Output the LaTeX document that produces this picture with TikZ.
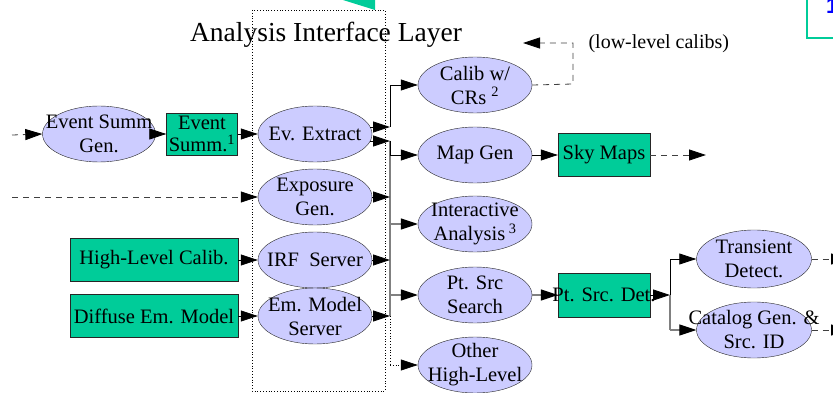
\documentclass[tikz,border=0pt]{standalone}
\usepackage{fontspec}
\setmainfont{Liberation Serif}
\newfontfamily\sansb{Liberation Sans}
\usetikzlibrary{arrows.meta,shapes.geometric,calc}
\definecolor{lav}{HTML}{CCCCFF}
\definecolor{grn}{HTML}{00CC99}
\definecolor{busgray}{HTML}{808080}
\begin{document}
\begin{tikzpicture}[x=1pt,y=-1pt,
  ell/.style={ellipse,draw=black!85,fill=lav,minimum width=114pt,minimum height=56pt,inner xsep=-40pt,inner ysep=-8pt,align=center,font=\fontsize{20.5}{24}\selectfont},
  boxn/.style={rectangle,draw=black!85,fill=grn,inner xsep=-20pt,inner ysep=-8pt,align=center,font=\fontsize{20.5}{22}\selectfont},
  arr/.style={-{Triangle[length=17pt,width=11pt,color=black]},line width=0.8pt},
  busl/.style={draw=busgray,line width=1.6pt},
  dsh/.style={dash pattern=on 6pt off 5pt,line width=0.8pt,draw=black!75},
  lbl/.style={font=\fontsize{20}{22}\selectfont}]
\useasboundingbox (0,0) rectangle (833,393);
\clip (0,0) rectangle (833,393);

% partial elements at the top
\fill[grn] (343,0) -- (375,0) -- (375,10) -- cycle;
\draw[grn,line width=2pt] (807,-5) rectangle (870,38);
\node[anchor=west,inner sep=0pt,text=blue,font=\sansb\bfseries\fontsize{22}{24}\selectfont] (one) at (826,6) {1};

% interface layer box and title
\draw[dotted,line width=0.8pt] (252,10) rectangle (385,391);
\node[font=\fontsize{27.5}{30}\selectfont] (title) at (326,35) {Analysis Interface Layer};

% left column
\node[ell,minimum width=113pt] (esg) at (99,134) {Event Summ\\Gen.};
\node[boxn,minimum width=71pt,minimum height=42pt] (es) at (202,134) {Event\\Summ.\textsuperscript{1}};
\node[boxn,minimum width=168pt,minimum height=43pt] (hlc) at (154,260) {High-Level Calib.};
\node[boxn,minimum width=168pt,minimum height=43pt] (dem) at (154,316) {Diffuse Em. Model};

% interface ellipses
\node[ell] (evx) at (315,134) {Ev. Extract};
\node[ell] (exp) at (315,197) {Exposure\\Gen.};
\node[ell] (irf) at (315,260) {IRF\ \ Server};
\node[ell] (emm) at (315,316) {Em. Model\\Server};

% right column ellipses
\node[ell] (cal) at (475,85) {Calib w/\\CRs \textsuperscript{2}};
\node[ell] (map) at (475,155) {Map Gen};
\node[ell] (ia) at (475,224) {Interactive\\Analysis\,\textsuperscript{3}};
\node[ell] (pss) at (475,295) {Pt. Src\\Search};
\node[ell] (oth) at (475,365) {Other\\High-Level};

\node[boxn,minimum width=92pt,minimum height=43pt] (sky) at (604,155) {Sky Maps};
\node[boxn,minimum width=92pt,minimum height=44pt] (psd) at (604,295) {Pt. Src. Det.};

\node[ell,minimum width=115pt,minimum height=58pt] (trd) at (754,259) {Transient\\Detect.};
\node[ell,minimum width=115pt,minimum height=56pt] (cat) at (754,330) {Catalog Gen. \&\\Src. ID};

\node[lbl,anchor=west] (llc) at (585,44) {(low-level calibs)};

% coordinates
\coordinate (in1) at (12,135);
\coordinate (in2) at (12,197);
\coordinate (b0) at (390,127);
\coordinate (b1) at (390,141);
\coordinate (btop) at (390,85);
\coordinate (bexp) at (390,197);
\coordinate (birf) at (390,260);
\coordinate (bemm) at (390,316);
\coordinate (bmap) at (390,155);
\coordinate (bia) at (390,224);
\coordinate (bpss) at (390,295);
\coordinate (both) at (390,365);
\coordinate (c1) at (573,84);
\coordinate (c2) at (573,43);
\coordinate (c3) at (523,43);
\coordinate (skyout) at (706,155);
\coordinate (pb) at (670,295);
\coordinate (ptr) at (670,259);
\coordinate (pcat) at (670,330);
\coordinate (trout) at (848,259);
\coordinate (catout) at (848,330);

% bus
\draw[busl] (b1) -- (bemm);
\draw[line width=0.8pt] (b1) -- (bmap);
\draw[dotted,line width=0.8pt] (bemm) -- (both);

% inputs
\draw[arr,dsh] (in1) -- (esg.west);
\draw[arr,dsh] (in2) -- (exp.west);
\draw[arr] (esg.east) -- (es.west);
\draw[arr] (es.east) -- (evx.west);
\draw[arr] (hlc.east) -- (irf.west);
\draw[arr] (dem.east) -- (emm.west);

% into bus
\draw[arr] ($(evx.east)+(-2,-7)$) -- (b0);
\draw[arr] ($(evx.east)+(-2,7)$) -- (b1);
\draw[arr] (exp.east) -- (bexp);
\draw[arr] (irf.east) -- (birf);
\draw[arr] (emm.east) -- (bemm);

% out of bus
\draw[arr] (b0) -- (btop) -- (cal.west);
\draw[arr] (bmap) -- (map.west);
\draw[arr,draw=busgray,line width=1.2pt] (bia) -- (ia.west);
\draw[arr,draw=busgray,line width=1.2pt] (bpss) -- (pss.west);
\draw[arr,dotted] (both) -- (oth.west);

% right side
\draw[arr,dsh] (cal.east) -- (c1) -- (c2) -- (c3);
\draw[arr] (map.east) -- (sky.west);
\draw[arr,dsh] (sky.east) -- (skyout);
\draw[arr,draw=busgray,line width=1.2pt] (pss.east) -- (psd.west);
\draw[arr] (psd.east) -- (pb);
\draw[line width=0.8pt] (ptr) -- (pb);
\draw[busl,line width=1.2pt] (pb) -- (pcat);
\draw[arr] (ptr) -- (trd.west);
\draw[arr,draw=busgray,line width=1.2pt] (pcat) -- (cat.west);
\draw[arr,dsh] (trd.east) -- (trout);
\draw[arr,dsh] (cat.east) -- (catout);
\end{tikzpicture}
\end{document}
